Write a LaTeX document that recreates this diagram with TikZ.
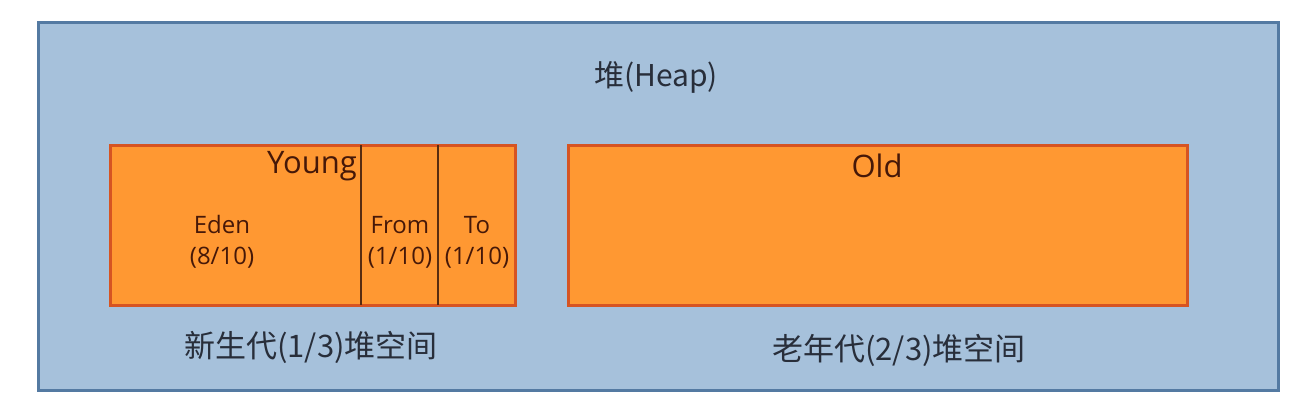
\documentclass[tikz,border=0pt]{standalone}
\usepackage{fontspec}
\setmainfont{Open Sans}
\newfontfamily\cjk{Noto Sans CJK SC}
\definecolor{heapfill}{RGB}{166,193,219}
\definecolor{heapline}{RGB}{84,122,162}
\definecolor{genfill}{RGB}{255,152,50}
\definecolor{genline}{RGB}{214,84,34}
\definecolor{splitline}{RGB}{88,44,16}
\definecolor{gentext}{RGB}{70,24,8}
\definecolor{captext}{RGB}{40,46,58}
\begin{document}
\begin{tikzpicture}[x=1pt, y=-1pt,
    heapbox/.style={draw=heapline, line width=3pt, fill=heapfill, inner sep=0pt},
    genbox/.style={draw=genline, line width=3pt, fill=genfill, inner sep=0pt, minimum height=160pt},
    split/.style={draw=splitline, line width=2.6pt},
    gentitle/.style={text=gentext, font=\fontsize{31}{36}\selectfont, inner sep=0pt},
    part/.style={text=gentext, font=\fontsize{24}{31}\selectfont, align=center, inner sep=0pt},
    caption/.style={text=captext, font=\cjk\fontsize{31}{36}\selectfont, inner sep=0pt}]
        \useasboundingbox (0,0) rectangle (1310,418);

        % Heap
        \node[heapbox, minimum width=1240pt, minimum height=368pt] (heap) at (658,206) {};
        \node[text=captext, font=\cjk\fontsize{30}{36}\selectfont, inner sep=0pt] (heaptitle) at (656,77) {堆(Heap)};

        % Young generation
        \node[genbox, minimum width=405pt] (young) at (312.5,225) {};
        \coordinate (s1top) at (361,145);
        \coordinate (s1bot) at (361,305);
        \coordinate (s2top) at (438,145);
        \coordinate (s2bot) at (438,305);
        \draw[split] (s1top) -- (s1bot);
        \draw[split] (s2top) -- (s2bot);
        \node[gentitle, anchor=east] (youngtitle) at (357,166) {Young};
        \node[part] (eden) at (222,242) {Eden\\(8/10)};
        \node[part] (from) at (400,242) {From\\(1/10)};
        \node[part] (to) at (477,242) {To\\(1/10)};

        % Old generation
        \node[genbox, minimum width=619pt] (old) at (877.5,225) {};
        \node[gentitle] (oldtitle) at (877,166) {Old};

        % Captions
        \node[caption] (youngcap) at (311,347) {新生代(1/3)堆空间};
        \node[caption] (oldcap) at (899,350) {老年代(2/3)堆空间};
    \end{tikzpicture}
\end{document}
